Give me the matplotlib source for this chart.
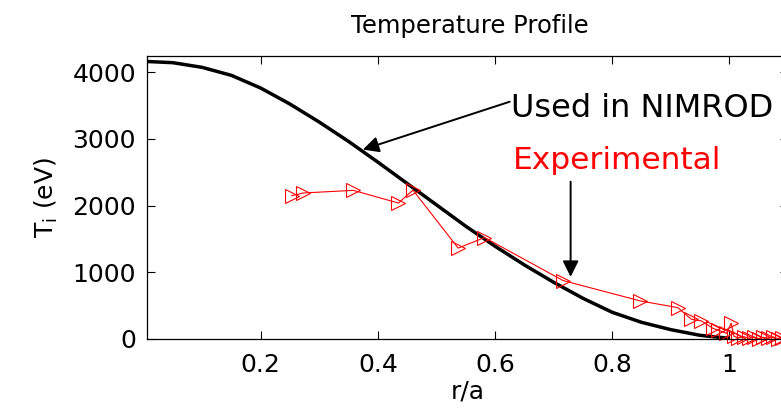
import matplotlib
matplotlib.use("Agg")
import matplotlib.pyplot as plt

# NIMROD model profile
r_model = [0.0, 0.05, 0.1, 0.15, 0.2, 0.25, 0.3, 0.35, 0.4, 0.45, 0.5,
           0.55, 0.6, 0.65, 0.7, 0.75, 0.8, 0.85, 0.9, 0.95, 1.0]
T_model = [4160, 4140, 4070, 3950, 3760, 3520, 3250, 2960, 2650, 2330, 2010,
           1690, 1390, 1110, 850, 610, 400, 250, 140, 55, 10]

# Experimental ion temperature
r_exp = [0.253, 0.273, 0.358, 0.435, 0.460, 0.537, 0.582, 0.716, 0.848,
         0.912, 0.935, 0.952, 0.972, 0.980, 0.995, 1.003, 1.008, 1.015,
         1.025, 1.033, 1.042, 1.05, 1.058, 1.066, 1.075, 1.083, 1.09, 1.1]
T_exp = [2147, 2188, 2227, 2037, 2230, 1362, 1520, 876, 570,
         470, 296, 272, 160, 135, 86, 236, 40, 20,
         35, 10, 30, 5, 25, 15, 30, 5, 20, 10]

x_ticks = [0.2, 0.4, 0.6, 0.8, 1.0]
x_labels = ["0.2", "0.4", "0.6", "0.8", "1"]
y_ticks = [0, 1000, 2000, 3000, 4000]

plt.rcParams['font.family'] = 'DejaVu Sans'

fig = plt.figure(figsize=(7.81, 4.09), dpi=100)
ax = fig.add_axes([147 / 781, 1 - 339 / 409, 641 / 781, 283 / 409])

ax.plot(r_model, T_model, color='k', lw=2.5, solid_capstyle='butt',
        solid_joinstyle='round')
ax.plot(r_exp, T_exp, color='red', lw=0.8, marker='>', markersize=10,
        markerfacecolor='none', markeredgecolor='red', markeredgewidth=0.8,
        clip_on=False)

ax.set_xlim(0.006, 1.1)
ax.set_ylim(0, 4240)
ax.set_xticks(x_ticks)
ax.set_xticklabels(x_labels)
ax.set_yticks(y_ticks)
ax.tick_params(direction='in', length=5.5, width=0.8, labelsize=18,
               top=True, right=True, pad=8)
ax.tick_params(axis='x', pad=10)
for s in ax.spines.values():
    s.set_linewidth(0.9)

ax.set_xlabel("r/a", fontsize=18, labelpad=2)
ax.set_ylabel(r"T$_\mathregular{i}$ (eV)", fontsize=18, labelpad=9)

fig.text(470 / 781, 1 - 33 / 409, "Temperature Profile", ha='center',
         va='baseline', fontsize=17.5)

# annotations
ax.annotate("", xy=(0.3744, 2838), xytext=(0.625, 3555),
            arrowprops=dict(arrowstyle='-|>', color='k', lw=1.4,
                            mutation_scale=24, shrinkA=0, shrinkB=0))
ax.text(0.628, 3330, "Used in NIMROD", fontsize=23, va='baseline', ha='left')

ax.annotate("", xy=(0.729, 931), xytext=(0.729, 2357),
            arrowprops=dict(arrowstyle='-|>', color='k', lw=1.4,
                            mutation_scale=24, shrinkA=0, shrinkB=0))
ax.text(0.630, 2548, "Experimental", fontsize=22.5, va='baseline', ha='left',
        color='red')

fig.savefig("out.png", dpi=100, facecolor='white')
